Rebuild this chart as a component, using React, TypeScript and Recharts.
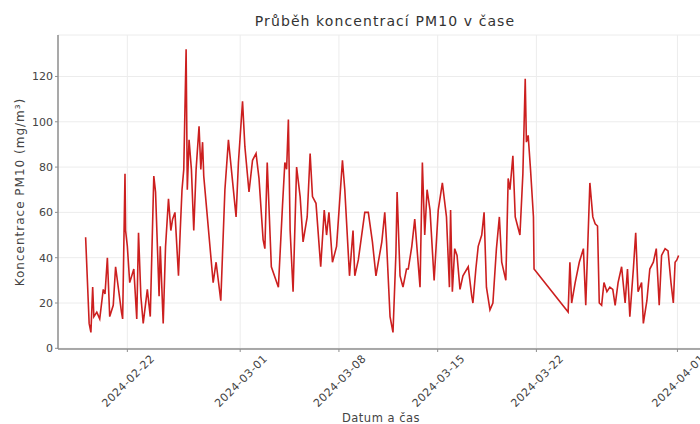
import { LineChart, Line, XAxis, YAxis, CartesianGrid } from 'recharts'

// hours since 2024-02-19 00:00 (UTC)
const START = Date.parse('2024-02-19T00:00:00Z')
const hours = [
	1, 7, 10, 13, 15, 20, 25, 31, 34, 38, 42, 48, 52, 62, 64, 68, 69, 72, 76, 83,
	88, 91, 95, 99, 106, 111, 117, 120, 126, 128, 133, 137, 142, 146, 149, 153, 159, 162, 165, 168,
	172, 174, 177, 181, 185, 189, 194, 197, 200, 202, 218, 223, 231, 238, 244, 249, 257, 261,
	268, 272, 279, 285, 291, 296, 303, 306, 310, 317, 329, 336, 340, 343, 346, 349, 354, 360, 366, 371,
	378, 383, 387, 393, 401, 407, 411, 415, 421, 428, 438, 442, 450, 456, 459, 465, 476, 482, 489, 495,
	505, 510, 513, 519, 524, 529, 531, 536, 541, 547,
	550, 556, 561, 570, 574, 578, 582, 587, 594, 601, 608, 615, 620, 622, 625, 629, 633, 638, 643, 652,
	658, 660, 665, 669, 675, 679, 683, 689, 694, 700, 705, 709, 716, 720, 723, 728, 732, 735, 740, 745,
	749, 751, 754, 758, 763, 764,
	822, 825, 828, 834, 841, 848, 852, 856, 859, 864, 868, 872, 875, 879, 883, 888, 893, 898, 902, 907,
	913, 919, 923, 927, 933, 937, 941, 947, 950, 956, 961, 967, 972, 977, 981, 987, 992, 997, 1001, 1004,
	1007, 1010,
]
const pm10 = [
	49, 11, 7, 27, 14, 16, 13, 26, 24, 40, 14, 19, 36, 16, 13, 77, 52, 45, 29, 35,
	13, 51, 23, 11, 26, 14, 76, 69, 23, 45, 11, 45, 66, 52, 57, 60, 32, 52, 70, 79,
	132, 70, 92, 79, 52, 79, 98, 79, 91, 76, 29, 38, 21, 70, 92, 79, 58, 82,
	109, 89, 69, 83, 86, 75, 48, 44, 82, 36, 27, 63, 82, 79, 101, 52, 25, 80, 67, 47,
	58, 86, 67, 64, 36, 61, 50, 60, 38, 45, 83, 70, 32, 52, 32, 39, 60, 60, 47, 32,
	47, 60, 47, 14, 7, 42, 69, 32, 27, 35,
	35, 45, 57, 27, 82, 50, 70, 61, 30, 61, 73, 58, 27, 61, 25, 44, 41, 26, 32, 36,
	23, 20, 35, 45, 50, 60, 27, 17, 20, 44, 58, 38, 30, 75, 70, 85, 58, 55, 50, 77,
	119, 91, 94, 79, 58, 35,
	16, 38, 20, 29, 38, 44, 19, 50, 73, 58, 55, 54, 20, 19, 29, 25, 27, 26, 19, 29,
	36, 20, 35, 14, 35, 51, 25, 29, 11, 21, 35, 38, 44, 19, 41, 44, 43, 29, 20, 38,
	39, 41,
]
const dateTicks = ['2024-02-22', '2024-03-01', '2024-03-08', '2024-03-15', '2024-03-22', '2024-04-01']
const yTicks = [0, 20, 40, 60, 80, 100, 120]

const data = hours.map((h, i) => ({ h, v: pm10[i] }))
const tickHours = dateTicks.map((d) => (Date.parse(d + 'T00:00:00Z') - START) / 3600000)

const FONT = '"DejaVu Sans", sans-serif'
const AXIS = '#8f8f8f'

// rotated label centred under its tick, like matplotlib rotation=45
function DateTick(props: any) {
	const { x, payload } = props
	const i = tickHours.indexOf(payload.value)
	const cx = x + 1
	const cy = 381
	return (
		<text x={cx} y={cy} transform={`rotate(-45 ${cx} ${cy})`} textAnchor="middle" dominantBaseline="central"
			fontFamily={FONT} fontSize={11} letterSpacing={0.5} fill="#444">
			{dateTicks[i]}
		</text>
	)
}

export default function App() {
	return (
		<div style={{ position: 'absolute', left: 0, top: 0, width: 700, height: 424, overflow: 'hidden', background: '#fff', fontFamily: FONT }}>
			<div style={{ position: 'absolute', left: 385, top: 21, transform: 'translate(-50%, -50%)', fontSize: 14, letterSpacing: 1.1, color: '#333', whiteSpace: 'nowrap' }}>
				Průběh koncentrací PM10 v čase
			</div>
			<div style={{ position: 'absolute', left: 20, top: 192, transform: 'translate(-50%, -50%) rotate(-90deg)', fontSize: 12, letterSpacing: 1, color: '#444', whiteSpace: 'nowrap' }}>
				Koncentrace PM10 (mg/m³)
			</div>
			<div style={{ position: 'absolute', left: 381, top: 418, transform: 'translate(-50%, -50%)', fontSize: 11.5, letterSpacing: 0.5, color: '#444', whiteSpace: 'nowrap' }}>
				Datum a čas
			</div>
			<LineChart width={720} height={424} data={data} margin={{ top: 35, right: 12, bottom: 0, left: 10 }}>
				<CartesianGrid stroke="#ececec" strokeWidth={1} />
				<XAxis type="number" dataKey="h" domain={[-46, 1060]} ticks={tickHours} interval={0}
					allowDataOverflow tick={<DateTick />} tickSize={3}
					axisLine={{ stroke: AXIS, strokeWidth: 1.5 }} tickLine={{ stroke: AXIS }} height={75} />
				<YAxis type="number" domain={[-0.3, 138.3]} ticks={yTicks} interval={0} allowDataOverflow width={48}
					tickSize={3} tick={{ fontFamily: FONT, fontSize: 11, fill: '#444' }}
					axisLine={{ stroke: AXIS, strokeWidth: 1.5 }} tickLine={{ stroke: AXIS }} />
				<Line type="linear" dataKey="v" stroke="#cc1f1f" strokeWidth={1.6} dot={false} isAnimationActive={false} />
			</LineChart>
		</div>
	)
}
